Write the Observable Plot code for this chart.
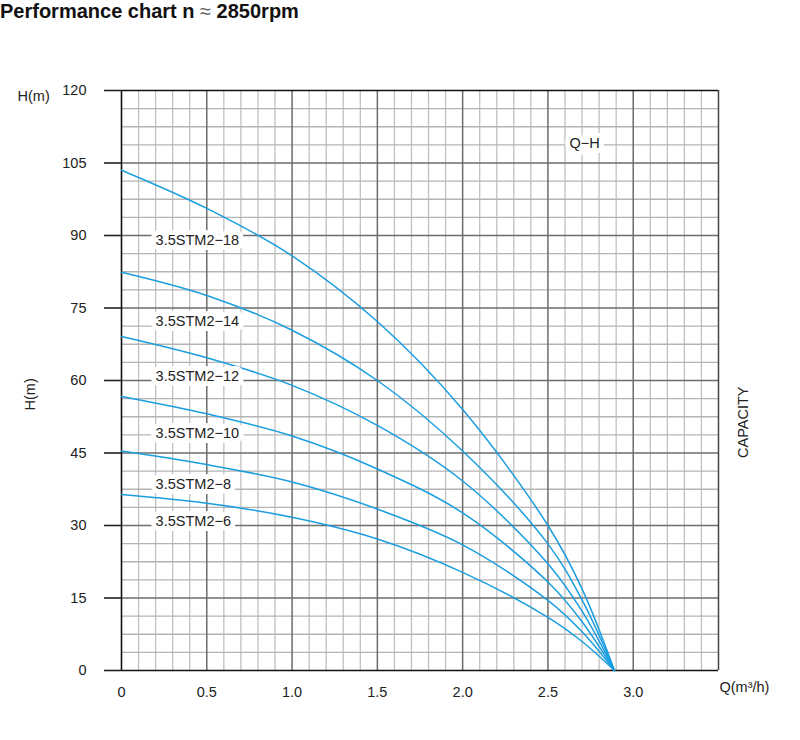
<!DOCTYPE html>
<html><head><meta charset="utf-8">
<script src="https://cdn.jsdelivr.net/npm/d3@7"></script>
<script src="https://cdn.jsdelivr.net/npm/@observablehq/plot@0.6"></script>
<style>
body{margin:0;background:#fff;font-family:"Liberation Sans",Arial,sans-serif;}
#title{height:30px;font-size:20px;font-weight:bold;line-height:22px;color:#111;white-space:nowrap;}
#title span{font-weight:normal;color:#666;}
#chart svg{display:block;}
</style></head><body>
<div id="title">Performance chart n <span>≈</span> 2850rpm</div>
<div id="chart"></div>
<script>
// Flow rate Q (m3/h) sample points
const flow = [0, 0.5, 1.0, 1.5, 2.0, 2.5, 2.7, 2.89];
// Head H (m) per model
const head18 = [103.5, 95.6, 85.8, 72.2, 54.0, 30.0, 16.9, 0];
const head14 = [82.4, 77.6, 70.4, 60.0, 45.4, 26.2, 14.6, 0];
const head12 = [69.1, 64.7, 59.0, 50.7, 39.2, 22.1, 12.3, 0];
const head10 = [56.7, 53.1, 48.5, 41.7, 32.6, 18.3, 10.1, 0];
const head8  = [45.4, 42.6, 39.0, 33.4, 26.0, 14.5, 8.0, 0];
const head6  = [36.4, 34.6, 31.7, 27.2, 20.3, 11.0, 6.0, 0];
const models = ["3.5STM2−18", "3.5STM2−14", "3.5STM2−12", "3.5STM2−10", "3.5STM2−8", "3.5STM2−6"];
const heads = [head18, head14, head12, head10, head8, head6];
const labelQ = [0.2, 0.2, 0.2, 0.2, 0.2, 0.2];
const labelH = [89.0, 72.3, 60.9, 49.0, 38.6, 30.9];
const xTicks = [0, 0.5, 1.0, 1.5, 2.0, 2.5, 3.0];
const xTickLabels = ["0", "0.5", "1.0", "1.5", "2.0", "2.5", "3.0"];
const yTicks = [0, 15, 30, 45, 60, 75, 90, 105, 120];

const rows = [];
models.forEach((m, i) => flow.forEach((q, j) => rows.push({model: m, q, h: heads[i][j]})));
const labels = models.map((m, i) => ({model: m, q: labelQ[i], h: labelH[i]}));

const minorX = d3.range(0, 36).map(i => i / 10).filter(v => Math.round(v * 10) % 5 !== 0);
const minorY = d3.range(0, 33).map(i => i * 3.75).filter(v => v % 15 !== 0);
const majorX = [0.5, 1.0, 1.5, 2.0, 2.5, 3.0];
const majorY = [15, 30, 45, 60, 75, 90, 105];

const blue = "#1a9ee0";
const chart = Plot.plot({
  width: 800, height: 710,
  marginTop: 60, marginBottom: 70, marginLeft: 121, marginRight: 82,
  style: {fontFamily: "'Liberation Sans', Arial, sans-serif", fontSize: "14px", color: "#222", background: "#fff"},
  x: {domain: [0, 3.5]},
  y: {domain: [0, 120]},
  marks: [
    Plot.ruleX(minorX, {stroke: "#c0c0c0", strokeWidth: 1.3}),
    Plot.ruleY(minorY, {stroke: "#b4b4b4", strokeWidth: 1.3}),
    Plot.ruleX(majorX, {stroke: "#6c6c6c", strokeWidth: 1.5}),
    Plot.ruleY(majorY, {stroke: "#6c6c6c", strokeWidth: 1.5}),
    Plot.ruleX([3.5], {stroke: "#444", strokeWidth: 1.5}),
    Plot.ruleX([0], {stroke: "#111", strokeWidth: 1.6}),
    Plot.ruleY([0, 120], {stroke: "#111", strokeWidth: 1.6}),
    Plot.axisY({ticks: yTicks, tickSize: 17, tickPadding: 18, stroke: "#222", strokeWidth: 1.6, fontSize: 14.5, label: null}),
    Plot.axisX({ticks: xTicks, tickFormat: (d, i) => xTickLabels[i], tickSize: 0, tickPadding: 16, fontSize: 14.5, label: null}),
    Plot.line(rows, {x: "q", y: "h", z: "model", stroke: blue, strokeWidth: 1.5, curve: "catmull-rom"}),
    Plot.text(labels, {x: "q", y: "h", text: "model", textAnchor: "start", fill: "#222", stroke: "white", strokeWidth: 10, fontSize: 14.5}),
    Plot.text(["Q−H"], {x: 2.626, y: 109, textAnchor: "start", fill: "#222", stroke: "white", strokeWidth: 10, fontSize: 14.5}),
    Plot.text(["H(m)"], {frameAnchor: "top-left", dx: -104, dy: 0, textAnchor: "start", fontSize: 14.5, fill: "#222"}),
    Plot.text(["H(m)"], {frameAnchor: "left", dx: -91, dy: 30, rotate: -90, fontSize: 14.5, fill: "#222"}),
    Plot.text(["CAPACITY"], {frameAnchor: "right", dx: 25, dy: 6, rotate: -90, fontSize: 14.5, fill: "#222"}),
    Plot.text(["Q(m³/h)"], {frameAnchor: "bottom-right", dx: 1, dy: 21, textAnchor: "start", fontSize: 14.5, fill: "#222"})
  ]
});
document.getElementById("chart").appendChild(chart);
</script>
</body></html>
